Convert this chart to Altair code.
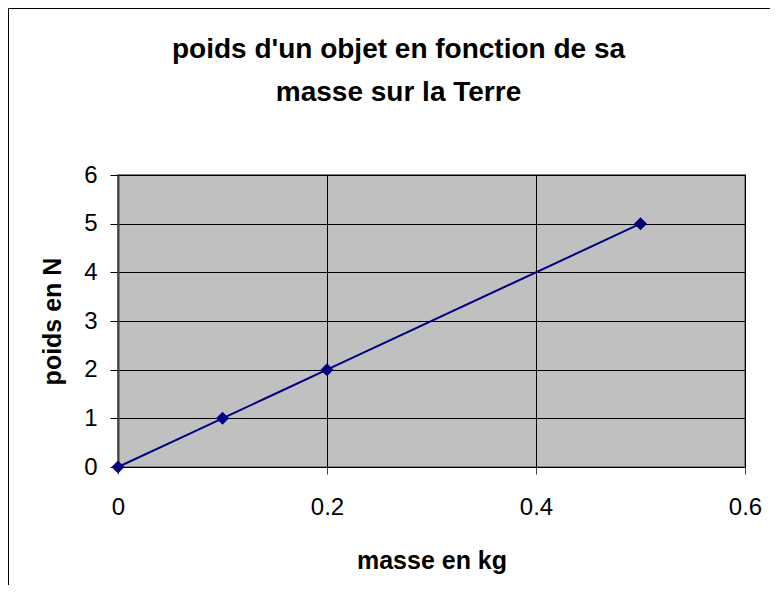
import altair as alt
import pandas as pd

masse = [0, 0.1, 0.2, 0.5]
poids = [0, 1, 2, 5]
x_ticks = [0, 0.2, 0.4, 0.6]
y_ticks = [0, 1, 2, 3, 4, 5, 6]
title_lines = ["poids d'un objet en fonction de sa", "masse sur la Terre"]

df = pd.DataFrame({"masse": masse, "poids": poids})

FONT = "Liberation Sans"
NAVY = "#000080"

x_enc = alt.X(
    "masse:Q",
    scale=alt.Scale(domain=[0, 0.6], nice=False, zero=False),
    axis=alt.Axis(
        values=x_ticks, format="~g", title="masse en kg",
        labelFont=FONT, labelFontSize=24, labelColor="black", labelPadding=21,
        tickSize=7, tickColor="#404040", domainColor="black", domainWidth=1,
        titleFont=FONT, titleFontSize=25, titleFontWeight="bold", titleColor="black",
        titlePadding=29, grid=True, gridColor="black", gridWidth=1,
        labelFlush=False,
    ),
)
y_enc = alt.Y(
    "poids:Q",
    scale=alt.Scale(domain=[0, 6], nice=False),
    axis=alt.Axis(
        values=y_ticks, title="poids en N",
        labelFont=FONT, labelFontSize=24, labelColor="black", labelPadding=13,
        tickSize=8, tickColor="black", domainColor="#404040", domainWidth=2,
        titleFont=FONT, titleFontSize=25, titleFontWeight="bold", titleColor="black",
        titlePadding=18, grid=True, gridColor="black", gridWidth=1,
        labelFlush=False,
    ),
)

border = alt.Chart(pd.DataFrame({"k": [0]})).mark_rect(
    filled=False, stroke="black", strokeWidth=1, clip=False
).encode(
    x=alt.value(-109.5), x2=alt.value(700),
    y=alt.value(-166.5), y2=alt.value(600),
)

line = alt.Chart(df).mark_line(color=NAVY, strokeWidth=2, interpolate="monotone").encode(
    x=x_enc, y=y_enc
)
points = alt.Chart(df).mark_point(
    shape="diamond", filled=True, color=NAVY, size=170, opacity=1
).encode(x="masse:Q", y="poids:Q")

chart = alt.layer(border, line, points).properties(
    width=627,
    height=292,
    title=alt.TitleParams(
        text=title_lines, font=FONT, fontSize=28, fontWeight="bold", color="black",
        lineHeight=43, anchor="middle", dx=-33, offset=0, dy=99,
    ),
    autosize=alt.AutoSizeParams(type="none"),
    padding={"left": 110, "top": 167, "right": 25, "bottom": 118},
    background="white",
).configure_view(
    fill="#C0C0C0", stroke="#808080", strokeWidth=2
)

chart.save("out.html", embed_options={"renderer": "svg", "actions": False})
